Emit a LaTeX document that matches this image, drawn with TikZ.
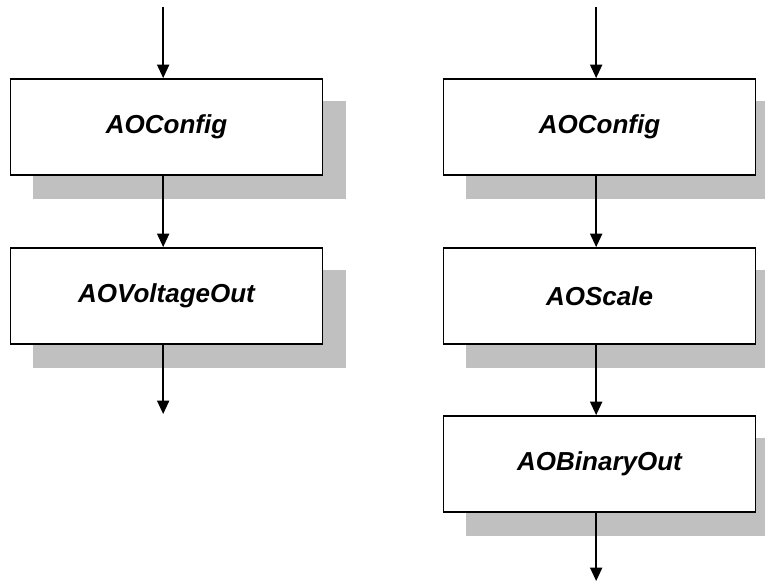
\documentclass[tikz,border=0pt]{standalone}
\usepackage{fontspec}
\setmainfont{Liberation Sans}
\usetikzlibrary{arrows.meta}
\definecolor{shadowgray}{RGB}{192,192,192}
\tikzset{
  box/.style={draw=black, line width=1.4pt, fill=white, rectangle,
    minimum width=234pt, minimum height=72pt, inner sep=0pt,
    font=\fontsize{19.5}{22}\selectfont\bfseries\itshape},
  flow/.style={draw=black, line width=1.2pt, -{Triangle[length=10pt,width=9pt]}},
  ax/.style={xshift=-2.5pt},
}
\newcommand{\boxshadow}[1]{%
  \fill[shadowgray] ([shift={(23,23)}]#1.south west) rectangle ([shift={(23,23)}]#1.north east);}
\begin{document}
\begin{tikzpicture}[x=0.75pt,y=-0.75pt]
\clip (0,0) rectangle (765,582);
\fill[white] (0,0) rectangle (765,582);
% free ends of the connectors
\coordinate (ltop) at (166.5,7);
\coordinate (lbot) at (166.5,414);
\coordinate (rtop) at (599.5,7);
\coordinate (rbot) at (599.5,581);
% shadow placeholders
\path (166.5,127) node[box, draw=none, fill=none] (l1s) {};
\path (166.5,296) node[box, draw=none, fill=none] (l2s) {};
\path (599.5,127) node[box, draw=none, fill=none] (r1s) {};
\path (599.5,296) node[box, draw=none, fill=none] (r2s) {};
\path (599.5,464) node[box, draw=none, fill=none] (r3s) {};
\boxshadow{l1s}
\boxshadow{l2s}
\boxshadow{r1s}
\boxshadow{r2s}
\boxshadow{r3s}
% boxes
\node[box] (l1) at (166.5,127) {AOConfig};
\node[box] (l2) at (166.5,296) {AOVoltageOut};
\node[box] (r1) at (599.5,127) {AOConfig};
\node[box] (r2) at (599.5,296) {AOScale};
\node[box] (r3) at (599.5,464) {AOBinaryOut};
% connectors
\draw[flow] ([ax]ltop) -- ([ax]l1.north);
\draw[flow] ([ax]l1.south) -- ([ax]l2.north);
\draw[flow] ([ax]l2.south) -- ([ax]lbot);
\draw[flow] ([ax]rtop) -- ([ax]r1.north);
\draw[flow] ([ax]r1.south) -- ([ax]r2.north);
\draw[flow] ([ax]r2.south) -- ([ax]r3.north);
\draw[flow] ([ax]r3.south) -- ([ax]rbot);
\end{tikzpicture}
\end{document}
